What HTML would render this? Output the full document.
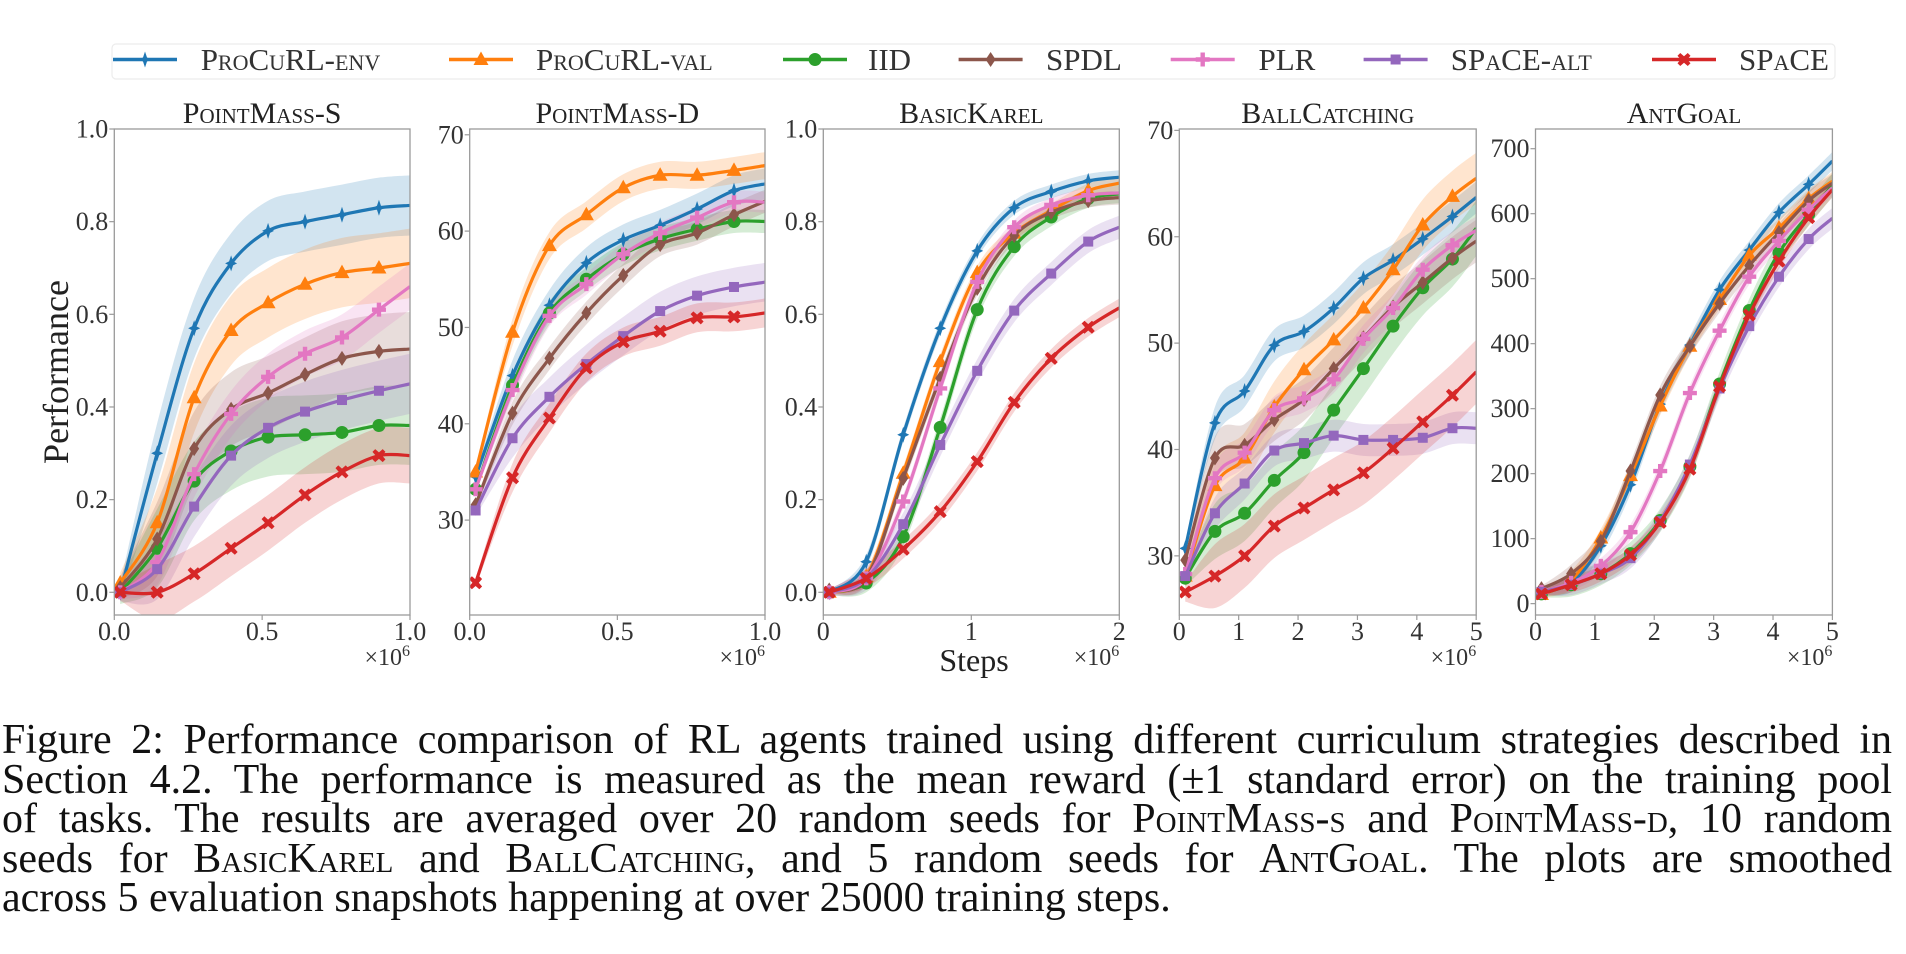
<!DOCTYPE html>
<html><head><meta charset="utf-8">
<style>
html,body{margin:0;padding:0;background:#fff;}
#wrap{position:relative;width:1906px;height:954px;overflow:hidden;}
svg text{font-family:"Liberation Serif","DejaVu Serif","Noto Serif CJK SC",serif;}
.cap{position:absolute;left:2px;width:1890px;font-family:"Liberation Serif","DejaVu Serif","Noto Serif CJK SC",serif;font-size:42px;line-height:40px;color:#111;white-space:nowrap;}
.j{text-align:justify;text-align-last:justify;white-space:normal;}
.sc{font-variant:small-caps;}
</style></head><body>
<div id="wrap">
<svg id="fig" width="1906" height="700" style="position:absolute;left:0;top:0"></svg>
<div class="cap j" style="top:720px">Figure 2: Performance comparison of RL agents trained using different curriculum strategies described in</div>
<div class="cap j" style="top:759.5px">Section 4.2. The performance is measured as the mean reward (±1 standard error) on the training pool</div>
<div class="cap j" style="top:799px">of tasks. The results are averaged over 20 random seeds for <span class="sc">PointMass-s</span> and <span class="sc">PointMass-d</span>, 10 random</div>
<div class="cap j" style="top:838.5px">seeds for <span class="sc">BasicKarel</span> and <span class="sc">BallCatching</span>, and 5 random seeds for <span class="sc">AntGoal</span>. The plots are smoothed</div>
<div class="cap" style="top:878px">across 5 evaluation snapshots happening at over 25000 training steps.</div>
</div>
<script>
// ---------- data ----------
const seriesNames = ["ProCuRL-env","ProCuRL-val","IID","SPDL","PLR","SPaCE-alt","SPaCE"];
const seriesKeys = ["env","val","iid","spdl","plr","alt","space"];
const colors = ["#1f77b4","#ff7f0e","#2ca02c","#8c564b","#e377c2","#9467bd","#d62728"];
const markers = ["star","tri","circ","diam","plus","sq","x"];
const plotTitles = ["PointMass-S","PointMass-D","BasicKarel","BallCatching","AntGoal"];

const p1Steps = [0.02,0.145,0.27,0.395,0.52,0.645,0.77,0.895,1.0];
const p1Env = [0.0,0.3,0.57,0.71,0.78,0.80,0.815,0.83,0.835];
const p1Val = [0.02,0.15,0.42,0.565,0.625,0.665,0.69,0.70,0.71];
const p1Iid = [0.0,0.095,0.24,0.305,0.335,0.34,0.345,0.36,0.36];
const p1Spdl = [0.01,0.115,0.31,0.395,0.43,0.47,0.505,0.52,0.525];
const p1Plr = [0.0,0.065,0.255,0.385,0.465,0.515,0.55,0.61,0.66];
const p1Alt = [0.0,0.05,0.185,0.295,0.355,0.39,0.415,0.435,0.45];
const p1Space = [0.0,0.0,0.04,0.095,0.15,0.21,0.26,0.295,0.295];
const p1Err = [0.065,0.075,0.085,0.08,0.05,0.065,0.06];

const p2Steps = [0.02,0.145,0.27,0.395,0.52,0.645,0.77,0.895,1.0];
const p2Env = [34.5,45,52.3,56.7,59.1,60.6,62.3,64.2,64.9];
const p2Val = [35.0,49.5,58.5,61.7,64.5,65.8,65.8,66.3,66.8];
const p2Iid = [33.2,44.0,51.5,55.0,57.6,59.2,60.2,61.0,61.0];
const p2Spdl = [31.6,41.1,46.8,51.5,55.4,58.6,59.8,61.7,63.1];
const p2Plr = [33.2,43.5,51.2,54.5,57.6,59.8,61.4,63.0,63.0];
const p2Alt = [31.0,38.5,42.8,46.2,49.1,51.7,53.3,54.2,54.7];
const p2Space = [23.5,34.4,40.6,45.8,48.5,49.6,51.0,51.1,51.5];
const p2Err = [1.6,1.4,1.2,1.2,1.1,2.0,1.5];

const p3Steps = [0.04,0.29,0.54,0.79,1.04,1.29,1.54,1.79,2.0];
const p3Env = [0.0,0.066,0.34,0.57,0.737,0.83,0.865,0.888,0.896];
const p3Val = [0.0,0.034,0.257,0.498,0.69,0.775,0.824,0.867,0.883];
const p3Iid = [0.0,0.02,0.12,0.356,0.61,0.746,0.81,0.85,0.86];
const p3Spdl = [0.005,0.03,0.246,0.462,0.656,0.77,0.82,0.845,0.852];
const p3Plr = [0.0,0.03,0.196,0.44,0.67,0.788,0.836,0.857,0.862];
const p3Alt = [0.0,0.03,0.147,0.318,0.478,0.608,0.688,0.757,0.788];
const p3Space = [0.0,0.03,0.093,0.174,0.282,0.41,0.505,0.572,0.614];
const p3Err = [0.015,0.015,0.02,0.015,0.015,0.025,0.02];

const p4Steps = [0.1,0.6,1.1,1.6,2.1,2.6,3.1,3.6,4.1,4.6,5.0];
const p4Env = [30.7,42.5,45.5,49.8,51.1,53.3,56.1,57.8,59.8,61.9,63.7];
const p4Val = [28.1,36.6,39.2,44.0,47.5,50.3,53.3,56.9,61.1,63.8,65.5];
const p4Iid = [27.9,32.3,34.0,37.1,39.7,43.7,47.6,51.6,55.2,57.9,60.8];
const p4Spdl = [29.6,39.2,40.4,42.8,44.7,47.6,50.5,53.4,55.7,58.0,59.6];
const p4Plr = [28.3,37.3,39.7,43.7,44.8,46.6,50.4,53.3,56.9,59.2,60.6];
const p4Alt = [28.1,34.0,36.8,39.9,40.6,41.3,40.9,40.9,41.1,42.0,42.0];
const p4Space = [26.6,28.1,30.0,32.8,34.5,36.2,37.8,40.1,42.6,45.1,47.3];
const p4Err = [1.5,2.4,2.6,2.0,1.3,1.5,3.0];

const p5Steps = [0.1,0.6,1.1,1.6,2.1,2.6,3.1,3.6,4.1,4.6,5.0];
const p5Env = [18,32,89,183,307,398,483,544,602,645,681];
const p5Val = [14,36,101,197,304,396,468,536,578,623,650];
const p5Iid = [15,29,46,77,128,211,338,451,540,599,644];
const p5Spdl = [23,46,96,204,321,396,462,520,571,620,647];
const p5Plr = [18,32,58,110,204,324,420,503,558,606,640];
const p5Alt = [18,29,46,70,127,214,331,427,503,561,593];
const p5Space = [15,29,46,75,125,207,334,444,527,594,637];
const p5Err = [14,14,18,14,12,16,12];

const p1TickVals=[0,0.2,0.4,0.6,0.8,1.0], p1TickLabels=["0.0","0.2","0.4","0.6","0.8","1.0"];
const p2TickVals=[30,40,50,60,70], p2TickLabels=["30","40","50","60","70"];
const p5TickVals=[0,100,200,300,400,500,600,700], p5TickLabels=["0","100","200","300","400","500","600","700"];
const xTick1=[0,0.5,1.0], xTick1L=["0.0","0.5","1.0"];
const xTick2=[0,1,2], xTick2L=["0","1","2"];
const xTick5=[0,1,2,3,4,5], xTick5L=["0","1","2","3","4","5"];

// ---------- layout ----------
const NS="http://www.w3.org/2000/svg";
const svg=document.getElementById('fig');
function mk(tag,attrs,parent){const e=document.createElementNS(NS,tag);for(const k in attrs)e.setAttribute(k,attrs[k]);(parent||svg).appendChild(e);return e;}
const T=129,B=615;
const plots=[
 {x0:114.3,x1:410,xmax:1,ymin:-0.049,ymax:1.0,steps:p1Steps,data:[p1Env,p1Val,p1Iid,p1Spdl,p1Plr,p1Alt,p1Space],err:p1Err,yt:p1TickVals,ytl:p1TickLabels,xt:xTick1,xtl:xTick1L},
 {x0:469.7,x1:765,xmax:1,ymin:20.15,ymax:70.6,steps:p2Steps,data:[p2Env,p2Val,p2Iid,p2Spdl,p2Plr,p2Alt,p2Space],err:p2Err,yt:p2TickVals,ytl:p2TickLabels,xt:xTick1,xtl:xTick1L},
 {x0:823.3,x1:1119.3,xmax:2,ymin:-0.049,ymax:1.0,steps:p3Steps,data:[p3Env,p3Val,p3Iid,p3Spdl,p3Plr,p3Alt,p3Space],err:p3Err,yt:p1TickVals,ytl:p1TickLabels,xt:xTick2,xtl:xTick2L},
 {x0:1179.3,x1:1476.2,xmax:5,ymin:24.44,ymax:70.13,steps:p4Steps,data:[p4Env,p4Val,p4Iid,p4Spdl,p4Plr,p4Alt,p4Space],err:p4Err,yt:p2TickVals,ytl:p2TickLabels,xt:xTick5,xtl:xTick5L},
 {x0:1535.5,x1:1832.4,xmax:5,ymin:-17.5,ymax:730.3,steps:p5Steps,data:[p5Env,p5Val,p5Iid,p5Spdl,p5Plr,p5Alt,p5Space],err:p5Err,yt:p5TickVals,ytl:p5TickLabels,xt:xTick5,xtl:xTick5L}
];

function spline(pts){
  let d="M"+pts[0][0].toFixed(2)+","+pts[0][1].toFixed(2);
  for(let i=0;i<pts.length-1;i++){
    const p0=pts[Math.max(0,i-1)],p1=pts[i],p2=pts[i+1],p3=pts[Math.min(pts.length-1,i+2)];
    const c1x=p1[0]+(p2[0]-p0[0])/6,c1y=p1[1]+(p2[1]-p0[1])/6;
    const c2x=p2[0]-(p3[0]-p1[0])/6,c2y=p2[1]-(p3[1]-p1[1])/6;
    d+=" C"+c1x.toFixed(2)+","+c1y.toFixed(2)+" "+c2x.toFixed(2)+","+c2y.toFixed(2)+" "+p2[0].toFixed(2)+","+p2[1].toFixed(2);
  }
  return d;
}
function splineCont(pts){return spline(pts).replace(/^M/,"L");}

function marker(type,x,y,col,parent,name){
  let e;
  if(type==="circ") e=mk('circle',{cx:x,cy:y,r:6.5,fill:col},parent);
  else if(type==="tri") e=mk('polygon',{points:`${x},${y-8} ${x-7.5},${y+5.5} ${x+7.5},${y+5.5}`,fill:col},parent);
  else if(type==="sq") e=mk('rect',{x:x-5,y:y-5,width:10,height:10,fill:col},parent);
  else if(type==="diam") e=mk('polygon',{points:`${x},${y-7.5} ${x-5},${y} ${x},${y+7.5} ${x+5},${y}`,fill:col},parent);
  else if(type==="star") e=mk('polygon',{points:`${x},${y-8} ${x-2},${y-2} ${x-6},${y} ${x-2},${y+2} ${x},${y+8} ${x+2},${y+2} ${x+6},${y} ${x+2},${y-2}`,fill:col},parent);
  else if(type==="plus") e=mk('polygon',{points:`${x-2.2},${y-7} ${x+2.2},${y-7} ${x+2.2},${y-2.2} ${x+7},${y-2.2} ${x+7},${y+2.2} ${x+2.2},${y+2.2} ${x+2.2},${y+7} ${x-2.2},${y+7} ${x-2.2},${y+2.2} ${x-7},${y+2.2} ${x-7},${y-2.2} ${x-2.2},${y-2.2}`,fill:col},parent);
  else { const a=2.3,b=6.5; e=mk('polygon',{points:`${x-b},${y-b+a*1.2} ${x-b+a*1.2},${y-b} ${x},${y-a*1.4} ${x+b-a*1.2},${y-b} ${x+b},${y-b+a*1.2} ${x+a*1.4},${y} ${x+b},${y+b-a*1.2} ${x+b-a*1.2},${y+b} ${x},${y+a*1.4} ${x-b+a*1.2},${y+b} ${x-b},${y+b-a*1.2} ${x-a*1.4},${y}`,fill:col},parent); }
  
  
  return e;
}

// legend
const lg=mk('g',{});


mk('rect',{x:112,y:44,width:1723,height:35,rx:4,fill:"#fff",stroke:"#ececec","stroke-width":1.2},lg);
const legLineX=[113,449,783,958.6,1170.7,1363.6,1652];
const legTextX=[200.7,536,868,1046,1258.5,1450.8,1739];
for(let i=0;i<7;i++){
  const g=mk('g',{},lg);
  
  
  mk('line',{x1:legLineX[i],y1:59.5,x2:legLineX[i]+64,y2:59.5,stroke:colors[i],"stroke-width":3.5},g);
  marker(markers[i],legLineX[i]+32,59.5,colors[i],g,'legend-marker-'+seriesKeys[i]);
  const t=mk('text',{x:legTextX[i],y:70,"font-size":31,fill:"#333","font-variant":"small-caps"},g);
  t.textContent=seriesNames[i];
  
  
}

plots.forEach((p,pi)=>{
  const g=mk('g',{});
  
  
  const sx=v=>p.x0+(v/p.xmax)*(p.x1-p.x0);
  const sy=v=>B-(v-p.ymin)/(p.ymax-p.ymin)*(B-T);
  const clipId='clip'+pi;
  const cp=mk('clipPath',{id:clipId},g); mk('rect',{x:p.x0,y:T,width:p.x1-p.x0,height:B-T},cp);
  const dg=mk('g',{"clip-path":`url(#${clipId})`},g);
  p.data.forEach((vals,si)=>{
    const e=p.err[si];
    const up=vals.map((v,k)=>[sx(p.steps[k]),sy(v+e*(k===0?0.3:1))]);
    const lo=vals.map((v,k)=>[sx(p.steps[k]),sy(v-e*(k===0?0.3:1))]).reverse();
    const band=mk('path',{d:spline(up)+" "+splineCont(lo)+" Z",fill:colors[si],"fill-opacity":0.2,stroke:"none"},dg);
    
    
  });
  p.data.forEach((vals,si)=>{
    const pts=vals.map((v,k)=>[sx(p.steps[k]),sy(v)]);
    const ln=mk('path',{d:spline(pts),fill:"none",stroke:colors[si],"stroke-width":3.2,"stroke-linejoin":"round"},dg);
    
    
    for(let k=0;k<pts.length-1;k++) marker(markers[si],pts[k][0],pts[k][1],colors[si],dg,'marker-'+seriesKeys[si]);
  });
  const fr=mk('rect',{x:p.x0,y:T,width:p.x1-p.x0,height:B-T,fill:"none",stroke:"#9a9a9a","stroke-width":1.3},g);
  
  
  p.yt.forEach((v,k)=>{
    mk('line',{x1:p.x0-5,x2:p.x0,y1:sy(v),y2:sy(v),stroke:"#9a9a9a","stroke-width":1.2},g);
    const t=mk('text',{x:p.x0-6,y:sy(v)+8.5,"font-size":26,fill:"#333","text-anchor":"end"},g);
    t.textContent=p.ytl[k];
    
    
  });
  p.xt.forEach((v,k)=>{
    mk('line',{x1:sx(v),x2:sx(v),y1:B,y2:B+5,stroke:"#9a9a9a","stroke-width":1.2},g);
    const t=mk('text',{x:sx(v),y:B+25,"font-size":26,fill:"#333","text-anchor":"middle"},g);
    t.textContent=p.xtl[k];
    
    
  });
  const m=mk('text',{x:p.x1,y:B+50,"font-size":24,fill:"#333","text-anchor":"end"},g);
  m.innerHTML='×10<tspan dy="-9" font-size="16">6</tspan>';
  
  
  const tt=mk('text',{x:(p.x0+p.x1)/2,y:123,"font-size":30,fill:"#222","text-anchor":"middle","font-variant":"small-caps"},g);
  tt.textContent=plotTitles[pi];
  
  
});

const yl=mk('text',{x:0,y:0,"font-size":36,fill:"#222","text-anchor":"middle",transform:"translate(68,372) rotate(-90)"});
yl.textContent="Performance";


const xl=mk('text',{x:974,y:671,"font-size":32,fill:"#222","text-anchor":"middle"});
xl.textContent="Steps";


</script>
</body></html>
